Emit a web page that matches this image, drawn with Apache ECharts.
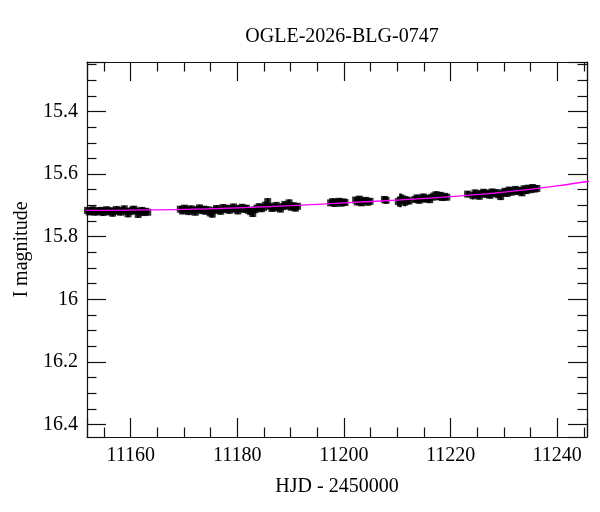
<!DOCTYPE html>
<html><head><meta charset="utf-8">
<script src="https://cdn.jsdelivr.net/npm/echarts@6/dist/echarts.min.js"></script>
<style>html,body{margin:0;padding:0;background:#fff}#c{width:600px;height:512px}</style>
</head><body><div id="c"></div>
<script>
const chartTitle = 'OGLE-2026-BLG-0747';
const xTitle = 'HJD - 2450000';
const yTitle = 'I magnitude';
const xRange = [11151.8, 11245.6];
const yRange = [15.242, 16.44];

// [HJD-2450000, I mag, error]
const photometry = [
  [11151.9,15.716,0.010],[11152.2,15.721,0.010],[11152.6,15.719,0.011],[11152.9,15.714,0.010],
  [11153.3,15.722,0.010],[11153.7,15.717,0.009],[11154.0,15.720,0.010],[11154.4,15.716,0.010],
  [11154.8,15.723,0.011],[11155.1,15.718,0.010],[11155.5,15.714,0.010],[11155.9,15.721,0.010],
  [11156.2,15.717,0.009],[11156.6,15.725,0.011],[11157.0,15.719,0.010],[11157.3,15.713,0.010],
  [11157.7,15.718,0.010],[11158.1,15.722,0.010],[11158.4,15.716,0.009],[11158.8,15.711,0.010],
  [11159.2,15.719,0.010],[11159.5,15.727,0.011],[11159.9,15.720,0.010],[11160.3,15.715,0.010],
  [11160.6,15.712,0.010],[11161.0,15.718,0.010],[11161.4,15.729,0.011],[11161.7,15.721,0.010],
  [11162.1,15.716,0.010],[11162.5,15.723,0.010],[11162.8,15.719,0.010],[11163.2,15.722,0.010],

  [11169.3,15.712,0.010],[11169.7,15.718,0.010],[11170.1,15.709,0.010],[11170.5,15.715,0.010],
  [11170.9,15.720,0.011],[11171.3,15.711,0.010],[11171.7,15.716,0.010],[11172.1,15.722,0.010],
  [11172.5,15.713,0.010],[11172.9,15.708,0.010],[11173.3,15.717,0.010],[11173.7,15.712,0.009],
  [11174.1,15.719,0.010],[11174.5,15.714,0.010],[11174.9,15.724,0.011],[11175.3,15.728,0.011],
  [11175.7,15.716,0.010],[11176.1,15.710,0.010],[11176.5,15.715,0.010],[11176.9,15.719,0.010],
  [11177.3,15.707,0.010],[11177.7,15.713,0.010],[11178.1,15.709,0.009],[11178.5,15.716,0.010],
  [11178.9,15.711,0.010],[11179.3,15.705,0.010],[11179.7,15.712,0.010],[11180.1,15.718,0.010],
  [11180.5,15.710,0.010],[11180.9,15.706,0.010],[11181.3,15.713,0.010],[11181.7,15.709,0.010],
  [11182.1,15.716,0.010],[11182.5,15.720,0.010],[11182.9,15.726,0.011],[11183.3,15.714,0.010],
  [11183.7,15.709,0.010],[11184.1,15.704,0.010],[11184.5,15.711,0.010],[11184.9,15.707,0.010],
  [11185.3,15.699,0.010],[11185.7,15.688,0.011],[11186.1,15.703,0.010],[11186.5,15.710,0.010],
  [11186.9,15.706,0.010],[11187.3,15.700,0.010],[11187.7,15.708,0.010],[11188.1,15.712,0.010],
  [11188.5,15.704,0.010],[11188.9,15.697,0.010],[11189.3,15.702,0.010],[11189.7,15.692,0.011],
  [11190.1,15.706,0.010],[11190.5,15.701,0.010],[11190.9,15.709,0.010],[11191.3,15.703,0.010],

  [11197.5,15.692,0.010],[11197.9,15.688,0.010],[11198.3,15.694,0.010],[11198.7,15.690,0.010],
  [11199.1,15.687,0.010],[11199.5,15.693,0.010],[11199.9,15.689,0.010],[11200.2,15.691,0.010],

  [11202.2,15.683,0.010],[11202.5,15.689,0.011],[11202.9,15.680,0.010],[11203.3,15.692,0.010],
  [11203.7,15.686,0.010],[11204.1,15.684,0.010],[11204.5,15.690,0.010],[11204.9,15.687,0.010],

  [11207.6,15.681,0.011],[11207.9,15.684,0.011],

  [11210.2,15.688,0.016],[11210.6,15.684,0.022],[11211.0,15.679,0.014],[11211.4,15.690,0.013],
  [11211.8,15.683,0.012],[11212.2,15.686,0.011],

  [11213.3,15.681,0.010],[11213.7,15.676,0.010],[11214.1,15.684,0.010],[11214.5,15.679,0.010],
  [11214.9,15.673,0.010],[11215.3,15.680,0.010],[11215.7,15.677,0.010],[11216.1,15.682,0.010],
  [11216.5,15.674,0.010],[11216.9,15.670,0.010],[11217.3,15.666,0.011],[11217.7,15.673,0.010],
  [11218.1,15.668,0.010],[11218.5,15.675,0.010],[11218.9,15.671,0.010],[11219.3,15.674,0.010],

  [11223.2,15.664,0.010],[11224.2,15.669,0.012],[11224.6,15.660,0.010],[11225.0,15.666,0.010],
  [11225.4,15.671,0.010],[11225.8,15.662,0.010],[11226.2,15.658,0.010],[11226.6,15.665,0.010],
  [11227.0,15.661,0.010],[11227.4,15.668,0.010],[11227.8,15.657,0.010],[11228.2,15.663,0.010],
  [11228.6,15.659,0.010],[11229.0,15.666,0.010],[11229.4,15.672,0.011],[11229.8,15.660,0.010],
  [11230.2,15.655,0.010],[11230.6,15.662,0.010],[11231.0,15.651,0.010],[11231.4,15.658,0.010],
  [11231.8,15.654,0.010],[11232.2,15.649,0.010],[11232.6,15.656,0.010],[11233.0,15.652,0.010],
  [11233.4,15.660,0.010],[11233.8,15.647,0.010],[11234.2,15.653,0.010],[11234.6,15.645,0.010],
  [11235.0,15.650,0.010],[11235.4,15.643,0.010],[11235.8,15.648,0.010],[11236.2,15.646,0.010]
];

// model light curve [HJD-2450000, I mag]
const modelCurve = [
  [11145,15.716],[11150,15.716],[11160,15.715],[11170,15.713],[11180,15.708],[11190,15.701],
  [11200,15.692],[11210,15.683],[11220,15.672],[11230,15.658],[11240,15.638],[11250,15.612]
];

const FONT = '"Liberation Serif", "Times New Roman", serif';
const lineCol = '#111';

function axisBase(extra) {
  return Object.assign({
    type: 'value',
    scale: true,
    splitNumber: 5,
    splitLine: { show: false },
    axisLine: { show: true, onZero: false, lineStyle: { color: lineCol, width: 1.2 } },
    axisTick: { show: true, inside: true, length: 19, lineStyle: { color: lineCol, width: 1.2 } },
    minorTick: { show: true, splitNumber: 4, length: 9.5, lineStyle: { color: lineCol, width: 1.2 } },
    minorSplitLine: { show: false }
  }, extra);
}

function plainNum(v) { return String(Math.round(v * 1000) / 1000); }

const chart = echarts.init(document.getElementById('c'), null, { renderer: 'canvas' });
chart.setOption({
  animation: false,
  backgroundColor: '#fff',
  title: {
    text: chartTitle, left: 337, top: 22, textAlign: 'center',
    textStyle: { fontFamily: FONT, fontSize: 20, fontWeight: 'normal', color: '#000' }
  },
  grid: { left: 87, top: 62, right: 13, bottom: 75, containLabel: false },
  xAxis: [
    axisBase({
      position: 'bottom', min: xRange[0], max: xRange[1],
      name: xTitle, nameLocation: 'middle', nameGap: 40,
      nameTextStyle: { fontFamily: FONT, fontSize: 20, color: '#000' },
      axisLabel: { show: true, margin: 9, showMinLabel: false, showMaxLabel: false,
        formatter: plainNum, fontFamily: FONT, fontSize: 20, color: '#000' }
    }),
    axisBase({
      position: 'top', min: xRange[0], max: xRange[1],
      axisLabel: { show: false }
    })
  ],
  yAxis: [
    axisBase({
      position: 'left', inverse: true, min: yRange[0], max: yRange[1],
      name: yTitle, nameLocation: 'middle', nameGap: 54, nameRotate: 90,
      nameTextStyle: { fontFamily: FONT, fontSize: 20, color: '#000' },
      axisLabel: { show: true, margin: 9, showMinLabel: false, showMaxLabel: false,
        formatter: plainNum, fontFamily: FONT, fontSize: 20, color: '#000' }
    }),
    axisBase({
      position: 'right', inverse: true, min: yRange[0], max: yRange[1],
      axisLabel: { show: false }
    })
  ],
  series: [
    {
      type: 'custom',
      xAxisIndex: 0, yAxisIndex: 0,
      clip: true,
      z: 2,
      encode: { x: 0, y: 1 },
      data: photometry,
      renderItem: function (params, api) {
        const t = api.value(0), m = api.value(1), e = api.value(2);
        const a = api.coord([t, m - e]);
        const b = api.coord([t, m + e]);
        return {
          type: 'line',
          shape: { x1: a[0], y1: a[1], x2: b[0], y2: b[1] },
          style: { stroke: '#000', lineWidth: 2.5 }
        };
      }
    },
    {
      type: 'scatter',
      xAxisIndex: 0, yAxisIndex: 0,
      z: 3,
      symbol: 'rect',
      symbolSize: 7,
      itemStyle: { color: '#000' },
      data: photometry.map(function (r) { return [r[0], r[1]]; })
    },
    {
      type: 'line',
      xAxisIndex: 0, yAxisIndex: 0,
      z: 4,
      clip: true,
      smooth: 0.4,
      showSymbol: false,
      symbol: 'none',
      lineStyle: { color: '#ff00ff', width: 1.3 },
      data: modelCurve
    }
  ]
});
</script>
</body></html>
